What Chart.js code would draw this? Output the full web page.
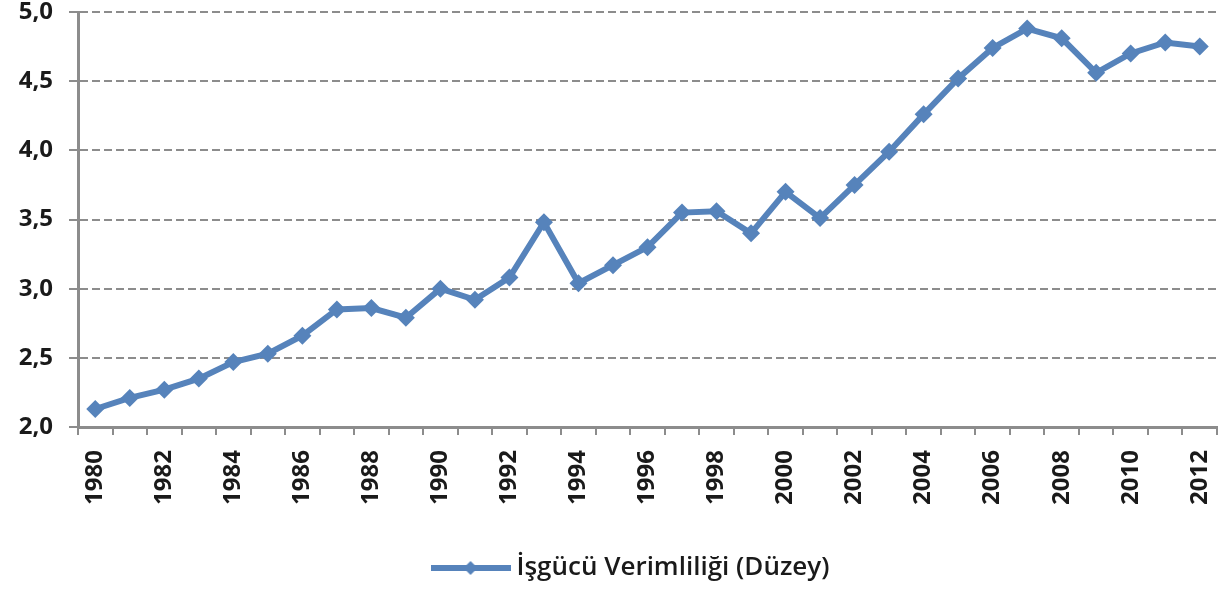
<!DOCTYPE html>
<html>
<head>
<meta charset="utf-8">
<script src="https://cdn.jsdelivr.net/npm/chart.js@4"></script>
<style>
  html, body { margin: 0; padding: 0; background: #fff; }
  #wrap { width: 1226px; height: 591px; }
</style>
</head>
<body>
<div id="wrap"><canvas id="chart" width="1226" height="591"></canvas></div>
<script>
const years = [];
for (let y = 1980; y <= 2012; y++) years.push(String(y));

const seriesName = 'İşgücü Verimliliği (Düzey)';
const productivity = [
    2.13, 2.21, 2.27, 2.35, 2.47, 2.53, 2.66, 2.85, 2.86, 2.79,
    3.00, 2.92, 3.08, 3.48, 3.04, 3.17, 3.30, 3.55, 3.56, 3.40,
    3.70, 3.51, 3.75, 3.99, 4.26, 4.52, 4.74, 4.88, 4.81, 4.56,
    4.70, 4.78, 4.75,
];

const lineColor = '#5683bb';
const gridColor = '#8c8c8c';
const font = "'Open Sans', sans-serif";

// legend marker: line with a small diamond in the middle
function legendMarker() {
    const c = document.createElement('canvas');
    c.width = 80;
    c.height = 20;
    const g = c.getContext('2d');
    g.strokeStyle = lineColor;
    g.lineWidth = 6;
    g.beginPath();
    g.moveTo(0, 10);
    g.lineTo(80, 10);
    g.stroke();
    g.fillStyle = lineColor;
    g.beginPath();
    g.moveTo(40, 3);
    g.lineTo(47, 10);
    g.lineTo(40, 17);
    g.lineTo(33, 10);
    g.closePath();
    g.fill();
    return c;
}

// the legend sits a little right of the canvas centre in the original
const legendShift = {
    id: 'legendShift',
    afterLayout(chart) {
        if (chart.legend) chart.legend.left += 50;
    },
};

new Chart(document.getElementById('chart').getContext('2d'), {
    type: 'line',
    data: {
        labels: years,
        datasets: [{
            label: seriesName,
            data: productivity,
            borderColor: lineColor,
            backgroundColor: lineColor,
            borderWidth: 6,
            pointStyle: 'rectRot',
            pointRadius: 9,
            pointBorderWidth: 0,
            tension: 0,
            fill: false,
        }],
    },
    plugins: [legendShift],
    options: {
        responsive: false,
        animation: false,
        layout: { padding: { top: 12, right: 9, left: 0, bottom: 0 } },
        plugins: {
            tooltip: { enabled: false },
            legend: {
                position: 'bottom',
                labels: {
                    usePointStyle: true,
                    pointStyle: legendMarker(),
                    pointStyleWidth: 66,
                    color: '#1a1a1a',
                    font: { family: font, size: 26, weight: '600' },
                    padding: 6,
                },
            },
        },
        scales: {
            x: {
                offset: true,
                grid: {
                    offset: true,
                    drawOnChartArea: false,
                    drawTicks: true,
                    tickLength: 8,
                    color: gridColor,
                    lineWidth: 2,
                },
                border: { display: true, color: gridColor, width: 3 },
                ticks: {
                    autoSkip: false,
                    maxRotation: 90,
                    minRotation: 90,
                    color: '#1a1a1a',
                    font: { family: font, size: 24, weight: 'bold' },
                    padding: 15,
                    callback: function (val, i) {
                        return i % 2 === 0 ? this.getLabelForValue(val) : '';
                    },
                },
                afterFit: (scale) => {
                    scale.height = 122;
                    scale.paddingLeft = 0;
                    scale.paddingRight = 0;
                },
            },
            y: {
                min: 2,
                max: 5,
                grid: {
                    color: gridColor,
                    lineWidth: 2,
                    tickLength: 9,
                    tickBorderDash: [],
                },
                border: { display: true, color: gridColor, width: 3, dash: [8, 4] },
                ticks: {
                    stepSize: 0.5,
                    color: '#1a1a1a',
                    font: { family: font, size: 24, weight: 'bold' },
                    padding: 16,
                    callback: (v) => v.toFixed(1).replace('.', ','),
                },
                afterFit: (scale) => {
                    scale.width = 78;
                    scale.paddingTop = 0;
                    scale.paddingBottom = 0;
                },
            },
        },
    },
});
</script>
</body>
</html>
